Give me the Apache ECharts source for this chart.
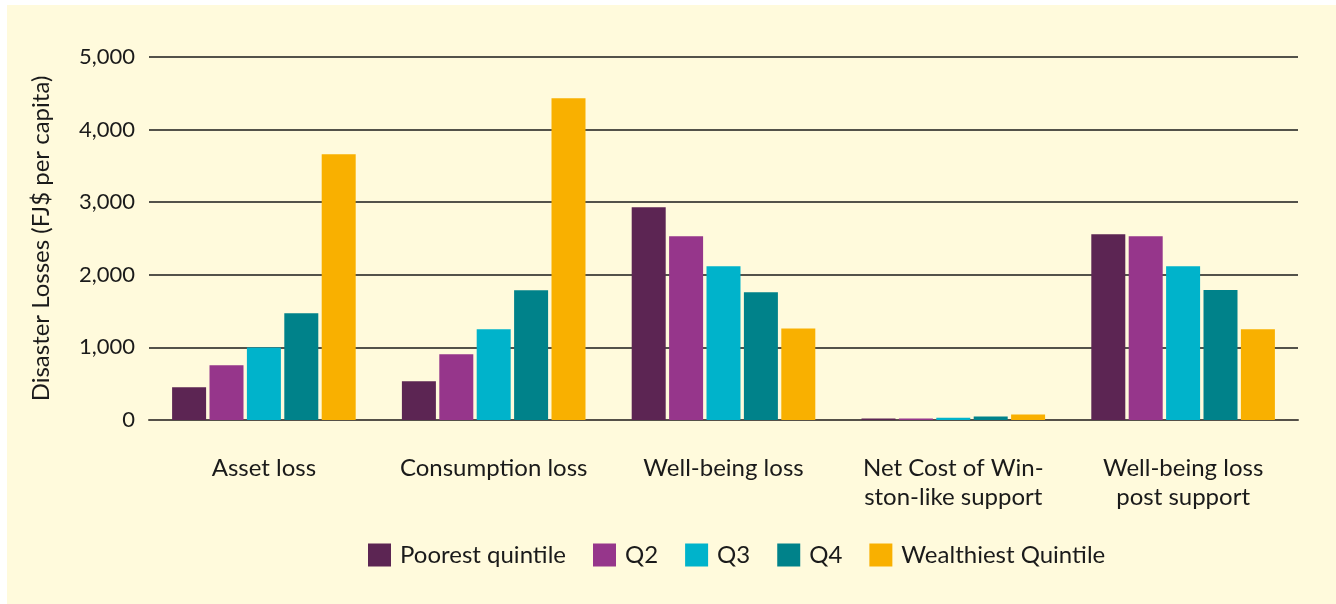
<!DOCTYPE html>
<html>
<head>
<meta charset="utf-8">
<script src="https://cdn.jsdelivr.net/npm/echarts@6/dist/echarts.min.js"></script>
<style>
  html, body { margin: 0; padding: 0; background: #ffffff; }
  #chart { position: absolute; left: 7px; top: 5px; width: 1329px; height: 599px; }
</style>
</head>
<body>
<div id="chart"></div>
<script>
// Disaster losses per capita by income quintile
const categories = [
  'Asset loss',
  'Consumption loss',
  'Well-being loss',
  'Net Cost of Win-\nston-like support',
  'Well-being loss\npost support'
];
const seriesNames = ['Poorest quintile', 'Q2', 'Q3', 'Q4', 'Wealthiest Quintile'];
const poorest    = [450, 533, 2930, 20, 2557];
const q2         = [754, 905, 2530, 20, 2530];
const q3         = [1000, 1250, 2117, 32, 2117];
const q4         = [1470, 1786, 1760, 48, 1790];
const wealthiest = [3660, 4431, 1260, 75, 1250];
const yTicks = [0, 1000, 2000, 3000, 4000, 5000];

const colors = ['#5c2553', '#96368b', '#00b3cb', '#00828a', '#f9b000'];
const values = [poorest, q2, q3, q4, wealthiest];
const fontFamily = 'Lato, "Open Sans", sans-serif';

const chart = echarts.init(document.getElementById('chart'));
chart.setOption({
  backgroundColor: '#fffadc',
  animation: false,
  textStyle: { fontFamily: fontFamily, color: '#1a1a1a' },
  color: colors,
  grid: { left: 142, right: 38, top: 52, bottom: 184, containLabel: false },
  legend: {
    top: 533,
    left: 356,
    itemWidth: 23,
    itemHeight: 23,
    itemGap: 27,
    icon: 'rect',
    textStyle: { fontSize: 24, color: '#1a1a1a', fontFamily: fontFamily, padding: [0, 0, 0, 4] },
    data: seriesNames
  },
  xAxis: {
    type: 'category',
    data: categories,
    axisLine: { show: true, lineStyle: { color: '#555048', width: 2 } },
    axisTick: { show: false },
    axisLabel: {
      fontSize: 24,
      lineHeight: 29,
      color: '#1a1a1a',
      margin: 34,
      interval: 0,
      verticalAlign: 'top'
    }
  },
  yAxis: {
    type: 'value',
    min: 0,
    max: 5000,
    interval: 1000,
    name: 'Disaster Losses (FJ$ per capita)',
    nameLocation: 'middle',
    nameRotate: 90,
    nameGap: 96,
    nameTextStyle: { fontSize: 24, color: '#1a1a1a' },
    axisLine: { show: false },
    axisTick: { show: false },
    axisLabel: {
      fontSize: 22,
      color: '#1a1a1a',
      margin: 14,
      formatter: v => yTicks.includes(v) ? v.toLocaleString('en-US') : ''
    },
    splitLine: { show: true, lineStyle: { color: '#1a1a1a', width: 1.5 } }
  },
  series: seriesNames.map((name, i) => ({
    name: name,
    type: 'bar',
    data: values[i],
    barWidth: 34,
    barGap: '10%',
    itemStyle: { color: colors[i] }
  }))
});
</script>
</body>
</html>
